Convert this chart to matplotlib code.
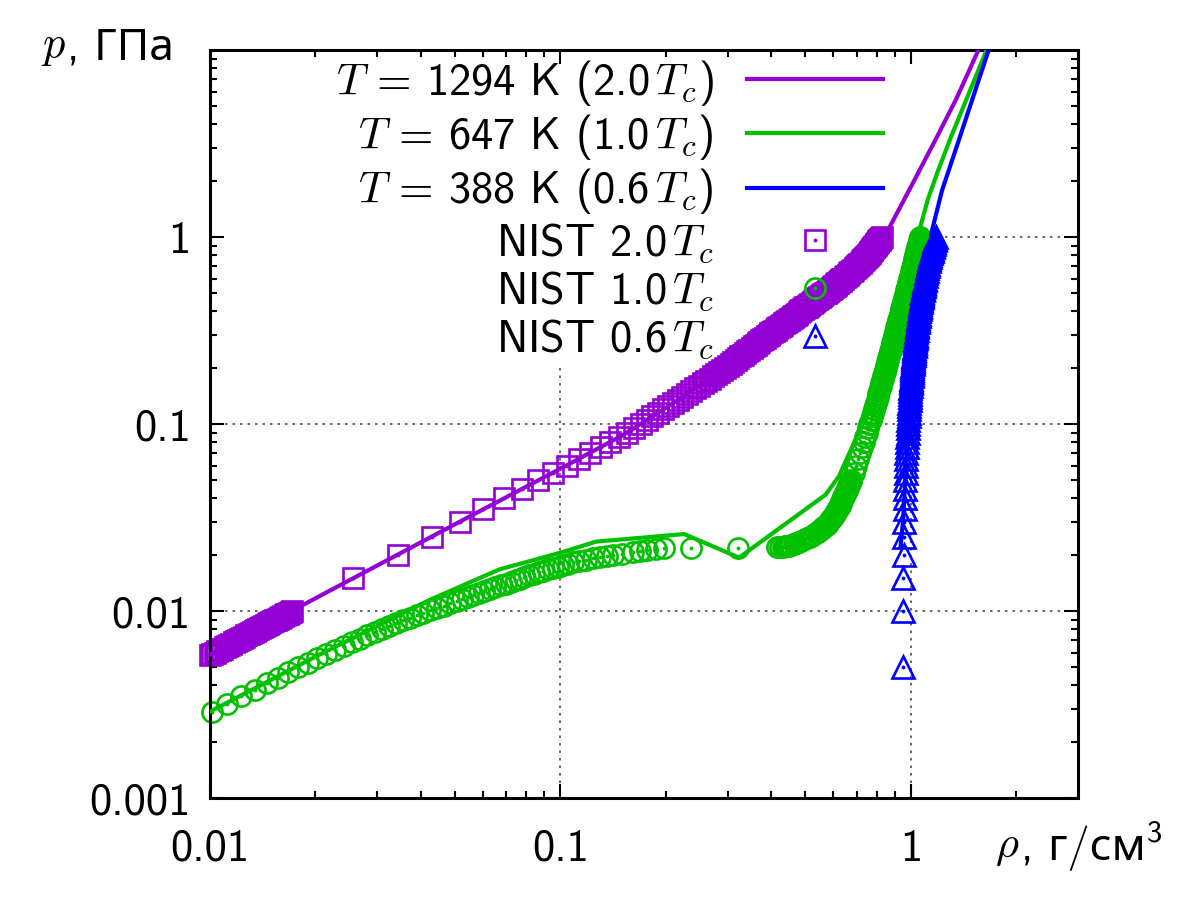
import matplotlib.pyplot as plt
from matplotlib.legend_handler import HandlerTuple
from matplotlib.patches import Rectangle
from matplotlib.ticker import NullFormatter

plt.rcParams['font.family'] = ['cmss10', 'Noto Sans']
plt.rcParams['mathtext.fontset'] = 'cm'
plt.rcParams['axes.unicode_minus'] = False

# --- pressure grids of the NIST isotherms (GPa) ---
p_grid_mid = [0.005, 0.010, 0.015, 0.020, 0.025, 0.030, 0.035, 0.040, 0.045, 0.050,
              0.055, 0.060, 0.065, 0.070, 0.075, 0.080, 0.085, 0.090, 0.095, 0.100,
              0.105, 0.110, 0.115, 0.120, 0.125, 0.130, 0.135, 0.140, 0.145, 0.150,
              0.155, 0.160, 0.165, 0.170, 0.175, 0.180, 0.185, 0.190, 0.195, 0.200,
              0.205, 0.210, 0.215, 0.220, 0.225, 0.230, 0.235, 0.240, 0.245, 0.250,
              0.255, 0.260, 0.265, 0.270, 0.275, 0.280, 0.285, 0.290, 0.295, 0.300]
p_grid_high = [0.31, 0.32, 0.33, 0.34, 0.35, 0.36, 0.37, 0.38, 0.39, 0.40,
               0.41, 0.42, 0.43, 0.44, 0.45, 0.46, 0.47, 0.48, 0.49, 0.50,
               0.51, 0.52, 0.53, 0.54, 0.55, 0.56, 0.57, 0.58, 0.59, 0.60,
               0.62, 0.64, 0.66, 0.68, 0.70, 0.72, 0.74, 0.76, 0.78, 0.80,
               0.82, 0.84, 0.86, 0.88, 0.90, 0.92, 0.94, 0.96, 0.98, 1.00]

# NIST 2.0 Tc (1294 K)
p_low_2tc = [0.0058, 0.0059, 0.0060, 0.0061, 0.0062, 0.0063, 0.0064, 0.0065, 0.0066, 0.0067,
             0.0068, 0.0069, 0.0070, 0.0071, 0.0072, 0.0073, 0.0074, 0.0075, 0.0076, 0.0077,
             0.0078, 0.0079, 0.0080, 0.0081, 0.0082, 0.0083, 0.0084, 0.0085, 0.0086, 0.0087,
             0.0088, 0.0089, 0.0090, 0.0091, 0.0092, 0.0093, 0.0094, 0.0095, 0.0096, 0.0097,
             0.0098, 0.0099, 0.0100]
p_high_2tc = [0.305, 0.310, 0.315, 0.320, 0.325, 0.330, 0.335, 0.340, 0.345, 0.350,
              0.355, 0.360, 0.365, 0.370, 0.375, 0.380, 0.385, 0.390, 0.395, 0.400,
              0.405, 0.410, 0.415, 0.420, 0.425, 0.430, 0.435, 0.440, 0.445, 0.450,
              0.455, 0.460, 0.465, 0.470, 0.475, 0.480, 0.485, 0.490, 0.495, 0.500,
              0.505, 0.510, 0.515, 0.520, 0.525, 0.530, 0.535, 0.540, 0.545, 0.550,
              0.555, 0.560, 0.565, 0.570, 0.575, 0.580, 0.585, 0.590, 0.595, 0.600,
              0.61, 0.62, 0.63, 0.64, 0.65, 0.66, 0.67, 0.68, 0.69, 0.70,
              0.71, 0.72, 0.73, 0.74, 0.75, 0.76, 0.77, 0.78, 0.79, 0.80,
              0.81, 0.82, 0.83, 0.84, 0.85, 0.86, 0.87, 0.88, 0.89, 0.90,
              0.91, 0.92, 0.93, 0.94, 0.95, 0.96, 0.97, 0.98, 0.99, 1.00]
rho_nist_2tc = [0.00997, 0.01014, 0.01031, 0.01048, 0.01065, 0.01082, 0.01100, 0.01117, 0.01134, 0.01151,
                0.01168, 0.01186, 0.01203, 0.01220, 0.01237, 0.01254, 0.01271, 0.01289, 0.01306, 0.01323,
                0.01340, 0.01357, 0.01375, 0.01392, 0.01409, 0.01426, 0.01443, 0.01460, 0.01478, 0.01495,
                0.01512, 0.01529, 0.01546, 0.01564, 0.01581, 0.01598, 0.01615, 0.01632, 0.01649, 0.01667,
                0.01684, 0.01701, 0.01718,
                0.0256, 0.0343, 0.0429, 0.0516, 0.0602, 0.0690, 0.0777, 0.0865,
                0.0953, 0.1042, 0.1128, 0.1215, 0.1302, 0.1386, 0.1471, 0.1554,
                0.1623, 0.1696, 0.1764, 0.1830, 0.1896, 0.1961, 0.2027, 0.2095, 0.2161, 0.2227,
                0.2292, 0.2356, 0.2420, 0.2484, 0.2545, 0.2606, 0.2665, 0.2724, 0.2783, 0.2840,
                0.2898, 0.2955, 0.3010, 0.3062, 0.3113, 0.3165, 0.3216, 0.3266, 0.3316, 0.3366,
                0.3415, 0.3463, 0.3511, 0.3559, 0.3607, 0.3654, 0.3700, 0.3746, 0.3793, 0.3838,
                0.3883, 0.3928,
                0.3974, 0.4019, 0.4066, 0.4113, 0.4160, 0.4206, 0.4252, 0.4298, 0.4344, 0.4390,
                0.4435, 0.4480, 0.4525, 0.4569, 0.4613, 0.4657, 0.4701, 0.4744, 0.4787, 0.4830,
                0.4873, 0.4915, 0.4958, 0.5000, 0.5043, 0.5085, 0.5128, 0.5171, 0.5214, 0.5256,
                0.5299, 0.5342, 0.5385, 0.5427, 0.5470, 0.5512, 0.5553, 0.5594, 0.5635, 0.5675,
                0.5716, 0.5756, 0.5797, 0.5838, 0.5879, 0.5919, 0.5960, 0.6000, 0.6034, 0.6068,
                0.6102, 0.6135, 0.6169, 0.6203, 0.6237, 0.6270, 0.6304, 0.6338, 0.6372, 0.6405,
                0.6472, 0.6538, 0.6602, 0.6665, 0.6728, 0.6791, 0.6855, 0.6918, 0.6977, 0.7036,
                0.7087, 0.7137, 0.7188, 0.7239, 0.7289, 0.7339, 0.7388, 0.7437, 0.7487, 0.7536,
                0.7581, 0.7625, 0.7661, 0.7696, 0.7732, 0.7768, 0.7804, 0.7839, 0.7875, 0.7910,
                0.7945, 0.7979, 0.8014, 0.8048, 0.8083, 0.8117, 0.8152, 0.8186, 0.8221, 0.8255]
p_nist_2tc = p_low_2tc + p_grid_mid[2:] + p_high_2tc

# NIST 1.0 Tc (647 K)
p_low_1tc = [0.0029, 0.0032, 0.0035, 0.0038, 0.0041, 0.0044, 0.0047, 0.0050, 0.0053, 0.0056,
             0.0059, 0.0062, 0.0065, 0.0068, 0.0071, 0.0074, 0.0077, 0.0080, 0.0083, 0.0086,
             0.0089, 0.0092, 0.0095, 0.0098, 0.0101, 0.0104, 0.0107, 0.0110, 0.0113, 0.0116,
             0.0119, 0.0122, 0.0125, 0.0128, 0.0131, 0.0134, 0.0137, 0.0140, 0.0143, 0.0146,
             0.0149, 0.0152, 0.0155, 0.0158, 0.0161, 0.0164, 0.0167, 0.0170, 0.0173, 0.0176,
             0.0179, 0.0182, 0.0185, 0.0188, 0.0191, 0.0194, 0.0197, 0.0200, 0.0203, 0.0206,
             0.0209, 0.0212, 0.0215]
p_crit_1tc = [0.0217, 0.02175, 0.0218, 0.0219, 0.0220, 0.0221, 0.0222, 0.0223, 0.0224, 0.0226, 0.0228]
p_fine_1tc = [0.0230, 0.0235, 0.0240, 0.0245, 0.0250, 0.0255, 0.0260, 0.0265, 0.0270, 0.0275,
              0.0280, 0.0285, 0.0290, 0.0295, 0.0300, 0.0305, 0.0310, 0.0315, 0.0320, 0.0325,
              0.0330, 0.0335, 0.0340, 0.0345, 0.0350, 0.0355, 0.0360, 0.0365, 0.0370, 0.0375,
              0.0380, 0.0385, 0.0390, 0.0395, 0.0400, 0.0405, 0.0410, 0.0415, 0.0420, 0.0425,
              0.0430, 0.0435, 0.0440, 0.0445, 0.0450, 0.0455, 0.0460, 0.0465, 0.0470, 0.0475,
              0.0480, 0.0485, 0.0490, 0.0495, 0.0500]
rho_nist_1tc = [0.0101, 0.01119, 0.01229, 0.0134, 0.01451, 0.01561, 0.01673, 0.01786, 0.01902, 0.02019,
                0.02145, 0.02274, 0.02405, 0.02537, 0.02675, 0.02812, 0.02956, 0.03103, 0.03252, 0.0340,
                0.03563, 0.03725, 0.03893, 0.04066, 0.04244, 0.0444, 0.0464, 0.04857, 0.05064, 0.05254,
                0.05444, 0.05644, 0.0585, 0.0606, 0.06284, 0.06508, 0.06752, 0.06996, 0.07222, 0.07447,
                0.07672, 0.07898, 0.08144, 0.08408, 0.08672, 0.08936, 0.09228, 0.0953, 0.09831, 0.1016,
                0.1052, 0.1089, 0.1133, 0.1181, 0.1237, 0.1298, 0.1355, 0.1417, 0.1504, 0.1615,
                0.169, 0.1765, 0.188,
                0.1977, 0.2357, 0.3214, 0.4159, 0.424, 0.431, 0.437, 0.443, 0.448, 0.456, 0.463,
                0.470, 0.481, 0.492, 0.504, 0.515, 0.525, 0.535, 0.543, 0.551, 0.557,
                0.563, 0.569, 0.575, 0.580, 0.584, 0.589, 0.593, 0.597, 0.600, 0.603,
                0.606, 0.609, 0.612, 0.615, 0.618, 0.621, 0.623, 0.626, 0.628, 0.630,
                0.632, 0.634, 0.636, 0.638, 0.640, 0.642, 0.644, 0.646, 0.648, 0.650,
                0.651, 0.653, 0.655, 0.657, 0.658, 0.660, 0.661, 0.663, 0.665, 0.667,
                0.668, 0.670, 0.671, 0.673, 0.674,
                0.687, 0.699, 0.709, 0.718, 0.727, 0.735, 0.742, 0.749, 0.756, 0.762,
                0.768, 0.774, 0.779, 0.784, 0.789, 0.794, 0.799, 0.804, 0.808, 0.812,
                0.816, 0.820, 0.824, 0.828, 0.832, 0.835, 0.839, 0.842, 0.845, 0.848,
                0.851, 0.854, 0.857, 0.860, 0.863, 0.866, 0.868, 0.871, 0.874, 0.876,
                0.879, 0.881, 0.884, 0.886, 0.889, 0.891, 0.893, 0.896, 0.898, 0.900,
                0.902, 0.906, 0.910, 0.914, 0.918, 0.922, 0.925, 0.929, 0.932, 0.936,
                0.939, 0.942, 0.945, 0.948, 0.952, 0.955, 0.957, 0.960, 0.963, 0.966,
                0.969, 0.971, 0.974, 0.976, 0.979, 0.981, 0.984, 0.986, 0.988, 0.991,
                0.995, 1.000, 1.004, 1.008, 1.012, 1.016, 1.020, 1.024, 1.028, 1.031,
                1.035, 1.038, 1.042, 1.045, 1.048, 1.051, 1.054, 1.057, 1.061, 1.064]
p_nist_1tc = p_low_1tc + p_crit_1tc + p_fine_1tc + p_grid_mid[10:] + p_grid_high

# NIST 0.6 Tc (388 K)
rho_nist_06tc = [0.949, 0.951, 0.952, 0.954, 0.956, 0.958, 0.960, 0.961, 0.963, 0.965,
                 0.967, 0.969, 0.970, 0.972, 0.974, 0.976, 0.978, 0.979, 0.981, 0.983,
                 0.984, 0.986, 0.987, 0.988, 0.990, 0.991, 0.992, 0.994, 0.995, 0.996,
                 0.998, 0.999, 1.000, 1.002, 1.003, 1.005, 1.006, 1.007, 1.009, 1.010,
                 1.011, 1.013, 1.014, 1.015, 1.016, 1.018, 1.019, 1.020, 1.021, 1.022,
                 1.024, 1.025, 1.026, 1.027, 1.029, 1.030, 1.031, 1.032, 1.034, 1.035,
                 1.037, 1.039, 1.042, 1.044, 1.046, 1.048, 1.050, 1.053, 1.055, 1.057,
                 1.059, 1.061, 1.063, 1.065, 1.067, 1.070, 1.072, 1.074, 1.076, 1.078,
                 1.080, 1.082, 1.084, 1.086, 1.088, 1.090, 1.092, 1.094, 1.096, 1.098,
                 1.102, 1.106, 1.110, 1.114, 1.118, 1.122, 1.126, 1.130, 1.134, 1.138,
                 1.142, 1.146, 1.150, 1.154, 1.158, 1.162, 1.167, 1.171, 1.176, 1.180]
p_nist_06tc = p_grid_mid + p_grid_high

# model isotherms
rho_model_2tc = [0.01, 0.02, 0.05, 0.1, 0.15, 0.2, 0.3, 0.4, 0.5, 0.6, 0.7, 0.8, 0.87, 1.0, 1.18, 1.35, 1.56]
p_model_2tc = [0.00583, 0.0117, 0.0291, 0.0577, 0.0868, 0.122, 0.203, 0.305, 0.42, 0.54, 0.70, 0.92,
               1.13, 1.85, 3.35, 5.5, 10.0]
rho_model_1tc = [0.01, 0.02, 0.0423, 0.067, 0.1, 0.1264, 0.2256, 0.3236, 0.5715, 0.6236, 0.70, 0.763,
                 0.838, 0.916, 0.987, 1.06, 1.12, 1.2, 1.3, 1.45, 1.646]
p_model_1tc = [0.0029, 0.0057, 0.01145, 0.0167, 0.0205, 0.0235, 0.0258, 0.0193, 0.0419, 0.0525, 0.085,
               0.12, 0.21, 0.38, 0.62, 1.1, 1.6, 2.3, 3.4, 5.6, 10.0]
rho_model_06tc = [0.935, 0.95, 0.97, 0.985, 1.01, 1.035, 1.078, 1.118, 1.15, 1.228, 1.37, 1.668]
p_model_06tc = [0.022, 0.03, 0.06, 0.1, 0.2, 0.3, 0.5, 0.7, 1.086, 1.775, 3.28, 10.0]

x_ticks = [0.01, 0.1, 1]
x_tick_labels = ['0.01', '0.1', '1']
y_ticks = [0.001, 0.01, 0.1, 1]
y_tick_labels = ['0.001', '0.01', '0.1', '1']

purple = '#9400d3'
green = '#00c000'
blue = '#0000ff'
fs = 32

fig = plt.figure(figsize=(12, 9), dpi=100)
ax = fig.add_axes([0.175, 0.1133, 0.7233, 0.8311])
ax.set_xscale('log')
ax.set_yscale('log')
ax.set_xlim(0.01, 3)
ax.set_ylim(0.001, 10)

# dotted grid behind the key box
for x in x_ticks[1:]:
    ax.axvline(x, color='0.3', lw=1.2, ls=(0, (1.5, 3)), zorder=0.6)
for y in y_ticks[1:]:
    ax.axhline(y, color='0.3', lw=1.2, ls=(0, (1.5, 3)), zorder=0.6)
ax.add_patch(Rectangle((0.017, 0.579), 0.83, 0.42, transform=ax.transAxes,
                       facecolor='white', edgecolor='none', zorder=0.8))

# NIST points
m_kw = dict(ls='none', mfc='none', mew=1.9, clip_on=False, zorder=2)
d_kw = dict(ls='none', marker='.', ms=3.5, clip_on=False, zorder=2)
m2, = ax.plot(rho_nist_2tc, p_nist_2tc, marker='s', ms=14, mec=purple, **m_kw)
d2, = ax.plot(rho_nist_2tc, p_nist_2tc, color=purple, **d_kw)
m1, = ax.plot(rho_nist_1tc, p_nist_1tc, marker='o', ms=14.5, mec=green, **m_kw)
d1, = ax.plot(rho_nist_1tc, p_nist_1tc, color=green, **d_kw)
m06, = ax.plot(rho_nist_06tc, p_nist_06tc, marker='^', ms=15.5, mec=blue, **m_kw)
d06, = ax.plot(rho_nist_06tc, p_nist_06tc, color=blue, **d_kw)

# model lines
l2, = ax.plot(rho_model_2tc, p_model_2tc, color=purple, lw=3, zorder=3)
l1, = ax.plot(rho_model_1tc, p_model_1tc, color=green, lw=3, zorder=3)
l06, = ax.plot(rho_model_06tc, p_model_06tc, color=blue, lw=3, zorder=3)

ax.set_xticks(x_ticks)
ax.set_xticklabels(x_tick_labels)
ax.set_yticks(y_ticks)
ax.set_yticklabels(y_tick_labels)
ax.xaxis.set_minor_formatter(NullFormatter())
ax.yaxis.set_minor_formatter(NullFormatter())
ax.tick_params(which='both', direction='in', top=True, right=True, width=1.5)
ax.tick_params(which='major', length=10, labelsize=fs)
ax.tick_params(which='minor', length=5)
ax.tick_params(axis='x', pad=22)
ax.tick_params(axis='y', pad=14)
for s in ax.spines.values():
    s.set_linewidth(2.2)

labels = [r'$T$ = 1294 K (2.0$\,T_c$)', r'$T$ = 647 K (1.0$\,T_c$)', r'$T$ = 388 K (0.6$\,T_c$)',
          r'NIST 2.0$\,T_c$', r'NIST 1.0$\,T_c$', r'NIST 0.6$\,T_c$']
handles = [l2, l1, l06, (m2, d2), (m1, d1), (m06, d06)]
leg = ax.legend(handles, labels, handler_map={tuple: HandlerTuple(ndivide=1, pad=0)},
                markerfirst=False, frameon=False, loc='upper right',
                bbox_to_anchor=(0.7753, 0.99), borderaxespad=0, borderpad=0,
                handlelength=3.05, handletextpad=0.75, labelspacing=0.1,
                fontsize=fs, numpoints=1)

# axis captions
fig.text(0.034, 0.947, '$p$', fontsize=fs, ha='left', va='center')
fig.text(0.0555, 0.947, ', ГПа', fontsize=fs, ha='left', va='center')
fig.text(0.829, 0.058, r'$\rho$', fontsize=fs, ha='left', va='center')
fig.text(0.851, 0.058, ', г/см', fontsize=fs, ha='left', va='center')
fig.text(0.956, 0.073, '3', fontsize=22, ha='left', va='center')

fig.savefig('out.png', dpi=100)
